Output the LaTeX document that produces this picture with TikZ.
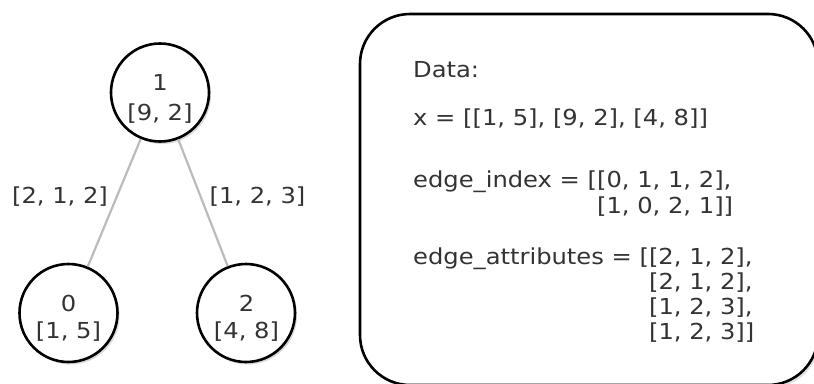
\documentclass[tikz,border=0pt]{standalone}
\usepackage{fontspec}
\setmainfont[FakeStretch=1.1]{DejaVu Sans}
\usetikzlibrary{shadows}
\definecolor{txt}{HTML}{333333}
\definecolor{edgegray}{HTML}{BBBBBB}
\tikzset{
  vtx/.style={circle, draw=black, line width=2.6pt, fill=white, minimum size=98pt, inner sep=0pt,
    drop shadow={shadow xshift=2pt, shadow yshift=-2.5pt, opacity=0.15, fill=black}},
  lbl/.style={text=txt, font=\fontsize{22pt}{26pt}\selectfont, inner sep=0pt, anchor=base},
  dtxt/.style={text=txt, font=\fontsize{22pt}{26pt}\selectfont, inner sep=0pt, anchor=base west},
  conn/.style={draw=edgegray, line width=2.2pt},
  databox/.style={line width=2.6pt, rounded corners=50pt}
}
\begin{document}
\begin{tikzpicture}[x=1pt, y=-1pt]
\useasboundingbox (0,0) rectangle (814,383);
\clip (0,0) rectangle (814,383);
% graph
\node[vtx] (n1) at (160,92.5) {};
\node[vtx] (n0) at (68.5,313) {};
\node[vtx] (n2) at (246,313) {};
\draw[conn] (n1) -- (n0);
\draw[conn] (n1) -- (n2);
\node[lbl] (n1a) at (160,90) {1};
\node[lbl] (n1b) at (160,120) {[9, 2]};
\node[lbl] (n0a) at (68.5,311) {0};
\node[lbl] (n0b) at (68.5,338) {[1, 5]};
\node[lbl] (n2a) at (246.5,311) {2};
\node[lbl] (n2b) at (246.5,338) {[4, 8]};
\node[lbl] (e10) at (60,203) {[2, 1, 2]};
\node[lbl] (e12) at (257.5,203) {[1, 2, 3]};
% data box
\fill[databox, black, opacity=0.12] (362,17) rectangle (820,388);
\draw[databox, draw=black, fill=white] (360,14) rectangle (818,385);
\node[dtxt] (d0) at (413,77) {Data:};
\node[dtxt] (d1) at (413,125) {x = [[1, 5], [9, 2], [4, 8]]};
\node[dtxt] (d2) at (413,187) {edge\_index = [[0, 1, 1, 2],};
\node[dtxt] (d3) at (413,213) {\phantom{edge\_index = [}[1, 0, 2, 1]]};
\node[dtxt] (d4) at (413,264) {edge\_attributes = [[2, 1, 2],};
\node[dtxt] (d5) at (413,289) {\phantom{edge\_attributes = [}[2, 1, 2],};
\node[dtxt] (d6) at (413,314) {\phantom{edge\_attributes = [}[1, 2, 3],};
\node[dtxt] (d7) at (413,339) {\phantom{edge\_attributes = [}[1, 2, 3]]};
\end{tikzpicture}
\end{document}
